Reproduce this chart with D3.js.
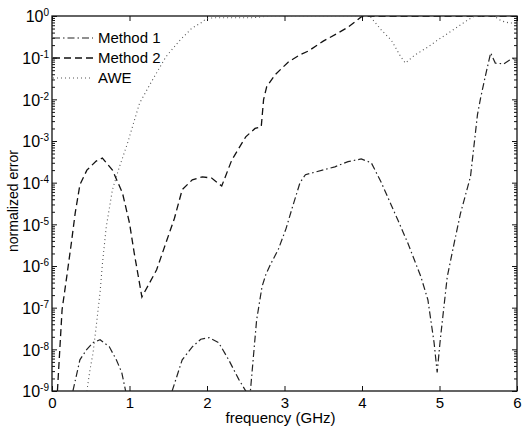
<!DOCTYPE html>
<html>
<head>
<meta charset="utf-8">
<script src="https://cdn.jsdelivr.net/npm/d3@7"></script>
<style>
  body { margin: 0; background: #fff; }
  svg { font-family: "Liberation Sans", Arial, Helvetica, sans-serif; }
  .axis path, .axis line { stroke: #111; }
  .axis text { fill: #000; font-size: 15px; }
</style>
</head>
<body>
<div id="chart"></div>
<script>
// frequency (GHz) and normalized error
var method1Freq = [0.27, 0.36, 0.45, 0.53, 0.62, 0.74, 0.83, 0.90, 0.95, 1.20,
                   1.55, 1.68, 1.81, 1.92, 2.03, 2.15, 2.28, 2.41, 2.50, 2.53, 2.56,
                   2.64, 2.71, 2.76, 2.82, 2.92, 3.02, 3.10, 3.20, 3.27, 3.40, 3.65,
                   3.82, 3.99, 4.12, 4.25, 4.46, 4.59, 4.76, 4.85, 4.93, 4.97, 5.01,
                   5.10, 5.19, 5.27, 5.40, 5.49, 5.53, 5.59, 5.66, 5.72, 5.83, 5.90, 6.00];
var method1Err = [1e-9, 5.6e-9, 1e-8, 1.45e-8, 1.7e-8, 1.15e-8, 5.6e-9, 2.8e-9, 1e-9, null,
                  1e-9, 5.6e-9, 1.15e-8, 1.75e-8, 1.9e-8, 1.45e-8, 5.6e-9, 1.9e-9, 1e-9, 6e-10, 1e-9,
                  5e-8, 3.2e-7, 6.3e-7, 1.1e-6, 2.5e-6, 7.9e-6, 2.5e-5, 1e-4, 1.55e-4, 1.8e-4, 2.4e-4,
                  3.2e-4, 3.7e-4, 3e-4, 1e-4, 1.3e-5, 3.6e-6, 5.5e-7, 1.55e-7, 1.45e-8, 2.8e-9, 1.7e-8,
                  5.5e-7, 3.6e-6, 1.8e-5, 1.4e-4, 4.3e-3, 1.07e-2, 3.5e-2, 0.13, 0.074, 0.071, 0.087, 0.1];

var method2Freq = [0.07, 0.13, 0.19, 0.25, 0.30, 0.36, 0.45, 0.57, 0.65, 0.78, 0.91, 1.00,
                   1.06, 1.16, 1.35, 1.47, 1.58, 1.68, 1.81, 1.94, 2.06, 2.19, 2.32, 2.50,
                   2.62, 2.70, 2.73, 2.77, 2.88, 3.05, 3.20, 3.31, 3.50, 3.69, 3.82, 3.99, 4.05, 6.00];
var method2Err = [1e-9, 8.9e-8, 5.5e-7, 3.6e-6, 1.9e-5, 8.9e-5, 2e-4, 3.3e-4, 3.9e-4, 2e-4, 5.6e-5, 1.07e-5,
                  2.1e-6, 1.8e-7, 8.1e-7, 3.6e-6, 1.4e-5, 6.8e-5, 1.17e-4, 1.38e-4, 1.29e-4, 8.3e-5, 3.5e-4, 1.26e-3,
                  2e-3, 2.2e-3, 9.8e-3, 2e-2, 3.9e-2, 7.9e-2, 0.117, 0.145, 0.25, 0.39, 0.54, 0.95, 1, 1];

var aweFreq = [0.45, 0.49, 0.53, 0.57, 0.62, 0.65, 0.70, 0.78, 0.87, 0.97, 1.13, 1.30,
               1.47, 1.64, 1.80, 1.94, 1.99, 2.10, 2.60, 2.80, 4.10, 4.25, 4.38, 4.50,
               4.56, 4.68, 4.85, 4.97, 5.14, 5.36, 5.45, 5.70, 5.80, 5.90, 6.00];
var aweErr = [1e-9, 3.2e-9, 8.3e-9, 3.5e-8, 2.3e-7, 1.1e-6, 8.7e-6, 6.8e-5, 2.4e-4, 8.3e-4, 8.1e-3, 3e-2,
              0.105, 0.25, 0.5, 0.72, 0.87, 0.91, 0.91, 1, 1, 0.46, 0.26, 0.105,
              0.074, 0.115, 0.18, 0.26, 0.42, 0.79, 1, 1, 0.76, 0.68, 0.68];

var seriesNames = ["Method 1", "Method 2", "AWE"];
var xTicks = [0, 1, 2, 3, 4, 5, 6];
var yDecades = [0, -1, -2, -3, -4, -5, -6, -7, -8, -9];

var width = 522, height = 430;
var margin = {top: 16, right: 5, bottom: 39, left: 52};
var innerW = width - margin.left - margin.right,
    innerH = height - margin.top - margin.bottom;

var x = d3.scaleLinear().domain([0, 6]).range([0, innerW]);
var y = d3.scaleLog().domain([1e-9, 1]).range([innerH, 0]);

var svg = d3.select("#chart").append("svg")
    .attr("width", width)
    .attr("height", height);

svg.append("defs").append("clipPath").attr("id", "clip")
  .append("rect").attr("width", innerW).attr("height", innerH);

var g = svg.append("g")
    .attr("transform", "translate(" + margin.left + "," + margin.top + ")");

var decadeVals = yDecades.map(function(k) { return Math.pow(10, k); });
var minorVals = [];
yDecades.slice(1).forEach(function(k) {
  for (var m = 2; m <= 9; m++) minorVals.push(m * Math.pow(10, k));
});

// minor log ticks, left and right
g.append("g").attr("class", "axis")
    .call(d3.axisLeft(y).tickValues(minorVals).tickSize(-3).tickFormat(""))
    .call(function(s) { s.select(".domain").remove(); });
g.append("g").attr("class", "axis")
    .attr("transform", "translate(" + innerW + ",0)")
    .call(d3.axisRight(y).tickValues(minorVals).tickSize(-3).tickFormat(""))
    .call(function(s) { s.select(".domain").remove(); });

// major y ticks with 10^k labels
var gy = g.append("g").attr("class", "axis")
    .call(d3.axisLeft(y).tickValues(decadeVals).tickSizeInner(-5).tickSizeOuter(0).tickPadding(3));
gy.select(".domain").remove();
gy.selectAll(".tick text").text(null)
    .attr("dy", "0.36em")
    .style("font-size", "16px")
    .call(function(t) {
      t.append("tspan").text("10");
      t.append("tspan").attr("dy", "-0.6em").attr("font-size", 10)
        .text(function(d) { return Math.round(Math.log10(d)); });
    });

g.append("g").attr("class", "axis")
    .attr("transform", "translate(" + innerW + ",0)")
    .call(d3.axisRight(y).tickValues(decadeVals).tickSizeInner(-5).tickSizeOuter(0).tickFormat(""))
    .call(function(s) { s.select(".domain").remove(); });

// x ticks, bottom and top
var gx = g.append("g").attr("class", "axis")
    .attr("transform", "translate(0," + innerH + ")")
    .call(d3.axisBottom(x).tickValues(xTicks).tickSizeInner(-5).tickSizeOuter(0).tickPadding(6)
      .tickFormat(d3.format("d")));
gx.select(".domain").remove();

g.append("g").attr("class", "axis")
    .call(d3.axisTop(x).tickValues(xTicks).tickSizeInner(-5).tickSizeOuter(0).tickFormat(""))
    .call(function(s) { s.select(".domain").remove(); });

// frame
g.append("rect")
    .attr("width", innerW).attr("height", innerH)
    .attr("fill", "none").attr("stroke", "#111").attr("stroke-width", 1.3);

// curves
var line = d3.line()
    .defined(function(d) { return d[1] != null; })
    .x(function(d) { return x(d[0]); })
    .y(function(d) { return y(d[1]); });

var series = [
  {name: seriesNames[0], data: d3.zip(method1Freq, method1Err), dash: "7,3,1.5,3", color: "#222", w: 1.2},
  {name: seriesNames[1], data: d3.zip(method2Freq, method2Err), dash: "7,4", color: "#111", w: 1.3},
  {name: seriesNames[2], data: d3.zip(aweFreq, aweErr), dash: "1,3", color: "#555", w: 1.1}
];

g.append("g").attr("clip-path", "url(#clip)")
  .selectAll("path").data(series).enter().append("path")
    .attr("d", function(d) { return line(d.data); })
    .attr("fill", "none")
    .attr("stroke", function(d) { return d.color; })
    .attr("stroke-width", function(d) { return d.w; })
    .attr("stroke-dasharray", function(d) { return d.dash; });

// legend
var legend = g.selectAll(".legend").data(series).enter().append("g")
    .attr("class", "legend")
    .attr("transform", function(d, i) { return "translate(1," + (22 + i * 20) + ")"; });
legend.append("line")
    .attr("x1", 0).attr("x2", 40)
    .attr("stroke", function(d) { return d.color; })
    .attr("stroke-width", function(d) { return d.w; })
    .attr("stroke-dasharray", function(d) { return d.dash; });
legend.append("text")
    .attr("x", 45).attr("dy", "0.36em")
    .attr("font-size", 15).attr("fill", "#000")
    .text(function(d) { return d.name; });

// axis titles
svg.append("text")
    .attr("x", margin.left + innerW / 2 - 4).attr("y", 423)
    .attr("text-anchor", "middle").attr("font-size", 15).attr("fill", "#000")
    .text("frequency (GHz)");
svg.append("text")
    .attr("transform", "translate(18,201) rotate(-90)")
    .attr("text-anchor", "middle").attr("font-size", 14).attr("fill", "#000")
    .text("normalized error");
</script>
</body>
</html>
